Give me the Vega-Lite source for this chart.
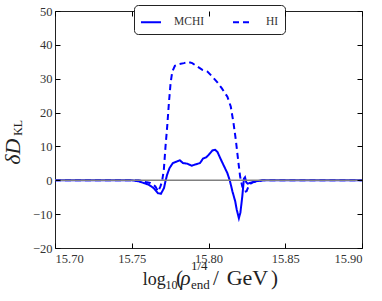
{
  "$schema": "https://vega.github.io/schema/vega-lite/v6.json",
  "autosize": "none",
  "width": 307,
  "height": 237,
  "padding": {"left": 55, "top": 11, "right": 20, "bottom": 53},
  "background": "white",
  "config": {
    "view": {"stroke": "#222", "strokeWidth": 1},
    "font": "Liberation Serif",
    "text": {"font": "Liberation Serif"},
    "axis": {
      "labelFont": "Liberation Serif",
      "labelFontSize": 12.5,
      "labelColor": "#333",
      "ticks": true,
      "tickColor": "#000",
      "tickWidth": 1,
      "tickOpacity": 1,
      "domain": false,
      "grid": false
    },
    "legend": {
      "orient": "none",
      "legendX": 79,
      "legendY": -6,
      "direction": "horizontal",
      "fillColor": "white",
      "strokeColor": "#222",
      "cornerRadius": 4,
      "padding": 6,
      "symbolType": "stroke",
      "symbolSize": 400,
      "symbolStrokeWidth": 2,
      "labelFont": "Liberation Serif",
      "labelFontSize": 11.5,
      "labelColor": "#333",
      "labelOffset": 12,
      "columnPadding": 24
    }
  },
  "resolve": {"axis": {"x": "independent", "y": "independent"}},
  "layer": [
    {
      "data": {
        "values": [
          {"x": 15.70, "y": 0, "series": "MCHI"},
          {"x": 15.73, "y": 0, "series": "MCHI"},
          {"x": 15.75, "y": 0, "series": "MCHI"},
          {"x": 15.7545, "y": -0.3, "series": "MCHI"},
          {"x": 15.761, "y": -1.3, "series": "MCHI"},
          {"x": 15.7643, "y": -2.3, "series": "MCHI"},
          {"x": 15.767, "y": -3.8, "series": "MCHI"},
          {"x": 15.769, "y": -4.0, "series": "MCHI"},
          {"x": 15.771, "y": -2.3, "series": "MCHI"},
          {"x": 15.772, "y": -0.2, "series": "MCHI"},
          {"x": 15.773, "y": 1.6, "series": "MCHI"},
          {"x": 15.7746, "y": 3.6, "series": "MCHI"},
          {"x": 15.7768, "y": 5.1, "series": "MCHI"},
          {"x": 15.7796, "y": 5.6, "series": "MCHI"},
          {"x": 15.7814, "y": 5.9, "series": "MCHI"},
          {"x": 15.7833, "y": 5.1, "series": "MCHI"},
          {"x": 15.7862, "y": 4.9, "series": "MCHI"},
          {"x": 15.789, "y": 4.3, "series": "MCHI"},
          {"x": 15.7916, "y": 4.7, "series": "MCHI"},
          {"x": 15.7945, "y": 5.1, "series": "MCHI"},
          {"x": 15.7964, "y": 6.4, "series": "MCHI"},
          {"x": 15.7986, "y": 6.8, "series": "MCHI"},
          {"x": 15.8003, "y": 7.6, "series": "MCHI"},
          {"x": 15.8025, "y": 8.8, "series": "MCHI"},
          {"x": 15.8043, "y": 9.0, "series": "MCHI"},
          {"x": 15.8058, "y": 8.4, "series": "MCHI"},
          {"x": 15.808, "y": 6.2, "series": "MCHI"},
          {"x": 15.8102, "y": 4.1, "series": "MCHI"},
          {"x": 15.8123, "y": 2.1, "series": "MCHI"},
          {"x": 15.8139, "y": -0.1, "series": "MCHI"},
          {"x": 15.8156, "y": -3.3, "series": "MCHI"},
          {"x": 15.8174, "y": -6.2, "series": "MCHI"},
          {"x": 15.8184, "y": -8.7, "series": "MCHI"},
          {"x": 15.8198, "y": -11.2, "series": "MCHI"},
          {"x": 15.8208, "y": -9.5, "series": "MCHI"},
          {"x": 15.822, "y": -4.8, "series": "MCHI"},
          {"x": 15.8231, "y": 0.5, "series": "MCHI"},
          {"x": 15.8238, "y": 0.9, "series": "MCHI"},
          {"x": 15.8246, "y": -0.6, "series": "MCHI"},
          {"x": 15.8256, "y": -1.0, "series": "MCHI"},
          {"x": 15.8276, "y": -0.7, "series": "MCHI"},
          {"x": 15.8309, "y": -0.3, "series": "MCHI"},
          {"x": 15.8353, "y": 0, "series": "MCHI"},
          {"x": 15.86, "y": 0, "series": "MCHI"},
          {"x": 15.90, "y": 0, "series": "MCHI"},
          {"x": 15.70, "y": 0, "series": "HI"},
          {"x": 15.74, "y": 0, "series": "HI"},
          {"x": 15.7545, "y": 0, "series": "HI"},
          {"x": 15.759, "y": -0.5, "series": "HI"},
          {"x": 15.762, "y": -0.8, "series": "HI"},
          {"x": 15.7654, "y": -1.8, "series": "HI"},
          {"x": 15.7672, "y": -3.3, "series": "HI"},
          {"x": 15.7687, "y": -1.8, "series": "HI"},
          {"x": 15.7698, "y": -0.2, "series": "HI"},
          {"x": 15.7709, "y": 3.1, "series": "HI"},
          {"x": 15.772, "y": 10, "series": "HI"},
          {"x": 15.7731, "y": 15.9, "series": "HI"},
          {"x": 15.7742, "y": 22.8, "series": "HI"},
          {"x": 15.7753, "y": 28.7, "series": "HI"},
          {"x": 15.7764, "y": 32.1, "series": "HI"},
          {"x": 15.7781, "y": 33.8, "series": "HI"},
          {"x": 15.7807, "y": 34.3, "series": "HI"},
          {"x": 15.784, "y": 34.6, "series": "HI"},
          {"x": 15.7866, "y": 35.0, "series": "HI"},
          {"x": 15.7894, "y": 34.6, "series": "HI"},
          {"x": 15.7927, "y": 33.6, "series": "HI"},
          {"x": 15.796, "y": 32.6, "series": "HI"},
          {"x": 15.7993, "y": 32.1, "series": "HI"},
          {"x": 15.8025, "y": 30.6, "series": "HI"},
          {"x": 15.8058, "y": 28.9, "series": "HI"},
          {"x": 15.8086, "y": 27.2, "series": "HI"},
          {"x": 15.8123, "y": 24.7, "series": "HI"},
          {"x": 15.8145, "y": 21.8, "series": "HI"},
          {"x": 15.8163, "y": 16.9, "series": "HI"},
          {"x": 15.8178, "y": 11.9, "series": "HI"},
          {"x": 15.8193, "y": 6.0, "series": "HI"},
          {"x": 15.8206, "y": 1.1, "series": "HI"},
          {"x": 15.822, "y": -1.8, "series": "HI"},
          {"x": 15.8236, "y": -3.4, "series": "HI"},
          {"x": 15.8248, "y": -3.2, "series": "HI"},
          {"x": 15.8265, "y": -1.3, "series": "HI"},
          {"x": 15.8287, "y": -0.6, "series": "HI"},
          {"x": 15.832, "y": -0.3, "series": "HI"},
          {"x": 15.8353, "y": 0, "series": "HI"},
          {"x": 15.86, "y": 0, "series": "HI"},
          {"x": 15.90, "y": 0, "series": "HI"}
        ]
      },
      "mark": {"type": "line", "strokeWidth": 2, "clip": true},
      "encoding": {
        "x": {"field": "x", "type": "quantitative",
              "scale": {"domain": [15.70, 15.90], "nice": false, "zero": false},
              "axis": {"orient": "bottom", "title": null, "values": [15.70, 15.75, 15.80, 15.85, 15.90], "format": ".2f", "ticks": true, "offset": -5, "tickSize": 5, "labelPadding": 4, "zindex": 2}},
        "y": {"field": "y", "type": "quantitative",
              "scale": {"domain": [-20, 50], "nice": false, "zero": false},
              "axis": {"orient": "left", "title": null, "values": [-20, -10, 0, 10, 20, 30, 40, 50], "ticks": true, "offset": -5, "tickSize": 5, "labelPadding": 3, "zindex": 2}},
        "color": {"field": "series", "type": "nominal",
                  "scale": {"domain": ["MCHI", "HI"], "range": ["#0000ff", "#0000ff"]},
                  "legend": {"title": null}},
        "strokeDash": {"field": "series", "type": "nominal",
                       "scale": {"domain": ["MCHI", "HI"], "range": [[1, 0], [6, 4]]},
                       "legend": {"title": null}}
      }
    },
    {
      "data": {"values": [{}]},
      "mark": {"type": "rule", "color": "#808080", "strokeWidth": 1.5},
      "encoding": {
        "x": {"datum": 15.70, "axis": {"orient": "top", "title": null, "labels": false, "values": [15.70, 15.75, 15.80, 15.85, 15.90], "ticks": true, "offset": -5, "tickSize": 5, "zindex": 2}},
        "x2": {"datum": 15.90},
        "y": {"datum": 0, "axis": {"orient": "right", "title": null, "labels": false, "values": [-20, -10, 0, 10, 20, 30, 40, 50], "ticks": true, "offset": -5, "tickSize": 5, "zindex": 2}}
      }
    },
    {
      "data": {"values": [{}]},
      "mark": {"type": "text", "fontSize": 18, "align": "left", "baseline": "alphabetic", "color": "#222"},
      "encoding": {"x": {"datum": 15.75713, "axis": null}, "y": {"datum": -30.91, "axis": null}, "text": {"value": "log"}}
    },
    {
      "data": {"values": [{}]},
      "mark": {"type": "text", "fontSize": 12, "align": "left", "baseline": "alphabetic", "color": "#222"},
      "encoding": {"x": {"datum": 15.77199, "axis": null}, "y": {"datum": -32.0, "axis": null}, "text": {"value": "10"}}
    },
    {
      "data": {"values": [{}]},
      "mark": {"type": "text", "fontSize": 21, "align": "left", "baseline": "alphabetic", "color": "#222"},
      "encoding": {"x": {"datum": 15.77883, "axis": null}, "y": {"datum": -30.91, "axis": null}, "text": {"value": "("}}
    },
    {
      "data": {"values": [{}]},
      "mark": {"type": "text", "fontSize": 21, "fontStyle": "italic", "align": "left", "baseline": "alphabetic", "color": "#222"},
      "encoding": {"x": {"datum": 15.78176, "axis": null}, "y": {"datum": -30.91, "axis": null}, "text": {"value": "ρ"}}
    },
    {
      "data": {"values": [{}]},
      "mark": {"type": "text", "fontSize": 13, "align": "left", "baseline": "alphabetic", "color": "#222"},
      "encoding": {"x": {"datum": 15.7886, "axis": null}, "y": {"datum": -26.6, "axis": null}, "text": {"value": "1/4"}}
    },
    {
      "data": {"values": [{}]},
      "mark": {"type": "text", "fontSize": 13, "align": "left", "baseline": "alphabetic", "color": "#222"},
      "encoding": {"x": {"datum": 15.7886, "axis": null}, "y": {"datum": -32.0, "axis": null}, "text": {"value": "end"}}
    },
    {
      "data": {"values": [{}]},
      "mark": {"type": "text", "fontSize": 21, "align": "left", "baseline": "alphabetic", "color": "#222"},
      "encoding": {"x": {"datum": 15.80293, "axis": null}, "y": {"datum": -30.91, "axis": null}, "text": {"value": "/"}}
    },
    {
      "data": {"values": [{}]},
      "mark": {"type": "text", "fontSize": 22, "align": "left", "baseline": "alphabetic", "color": "#222"},
      "encoding": {"x": {"datum": 15.81186, "axis": null}, "y": {"datum": -30.91, "axis": null}, "text": {"value": "GeV"}}
    },
    {
      "data": {"values": [{}]},
      "mark": {"type": "text", "fontSize": 21, "align": "left", "baseline": "alphabetic", "color": "#222"},
      "encoding": {"x": {"datum": 15.84072, "axis": null}, "y": {"datum": -30.91, "axis": null}, "text": {"value": ")"}}
    },
    {
      "data": {"values": [{}]},
      "mark": {"type": "text", "fontSize": 22, "fontStyle": "italic", "angle": 270, "align": "left", "baseline": "alphabetic", "color": "#222"},
      "encoding": {"x": {"datum": 15.67752, "axis": null}, "y": {"datum": 4.57, "axis": null}, "text": {"value": "δD"}}
    },
    {
      "data": {"values": [{}]},
      "mark": {"type": "text", "fontSize": 12, "angle": 270, "align": "left", "baseline": "alphabetic", "color": "#222"},
      "encoding": {"x": {"datum": 15.6785, "axis": null}, "y": {"datum": 13.13, "axis": null}, "text": {"value": "KL"}}
    }
  ]
}
